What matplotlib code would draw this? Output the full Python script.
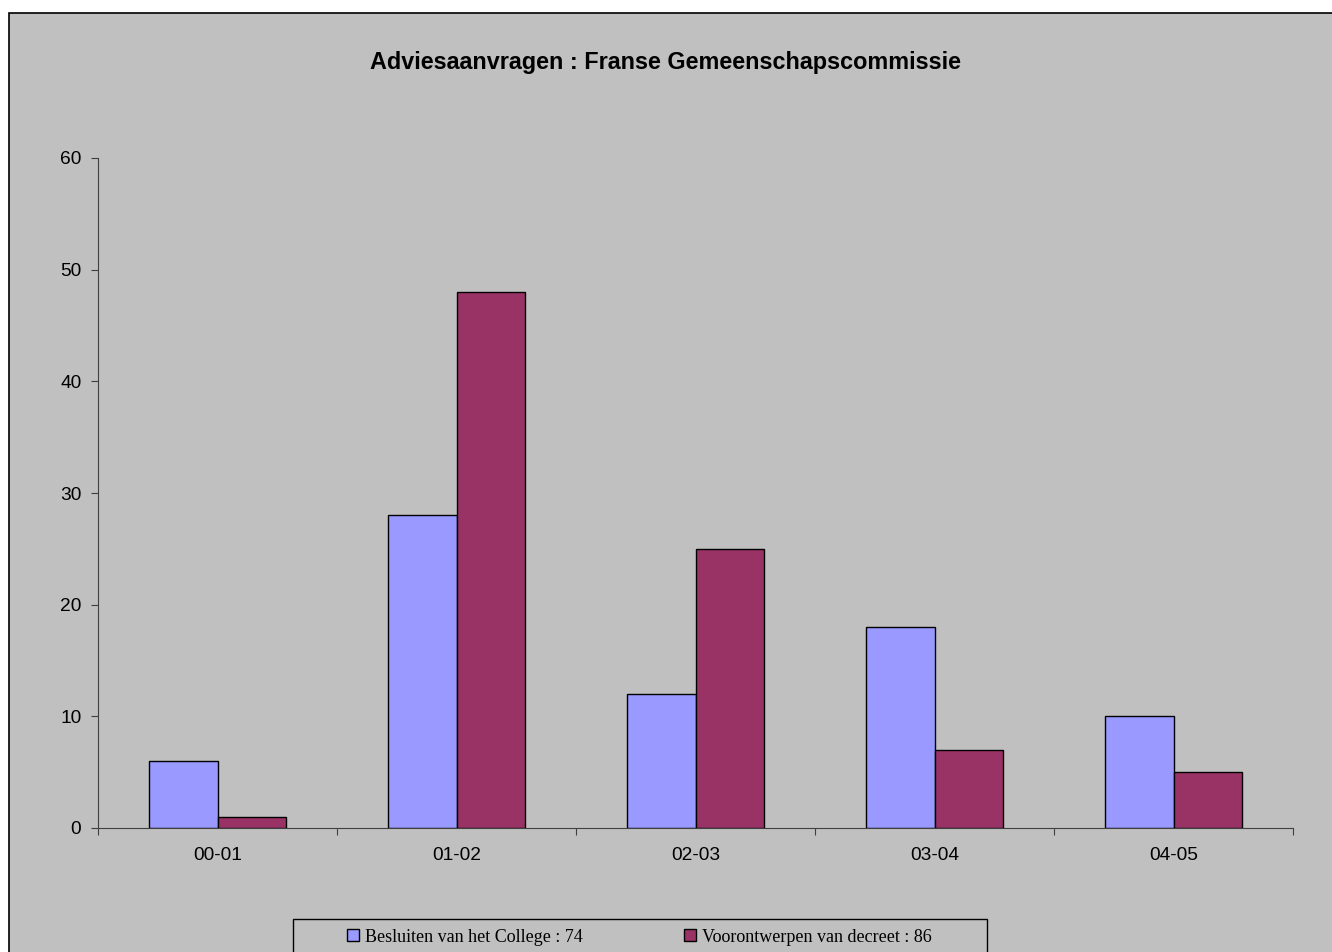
import numpy as np
import matplotlib
matplotlib.use("Agg")
import matplotlib.pyplot as plt
from matplotlib.patches import Rectangle, Patch

# data
periods = ["00-01", "01-02", "02-03", "03-04", "04-05"]
besluiten = [6, 28, 12, 18, 10]
voorontwerpen = [1, 48, 25, 7, 5]
labels = ["Besluiten van het College : 74", "Voorontwerpen van decreet : 86"]
colors = ["#9999FF", "#993366"]
bg = "#C0C0C0"

plt.rcParams['font.family'] = ['Liberation Sans', 'DejaVu Sans']

fig = plt.figure(figsize=(13.32, 9.52), dpi=100, facecolor="white")
# chart area border
fig.patches.append(Rectangle((9 / 1332, -0.2), 1.2, 0.2 + 1 - 13 / 952,
                             transform=fig.transFigure, facecolor=bg,
                             edgecolor="black", linewidth=1.2, zorder=-10))

ax = fig.add_axes([98 / 1332, 1 - 828 / 952, 1195 / 1332, 670 / 952])
ax.patch.set_alpha(0)

x = np.arange(len(periods))
w = 0.285
ax.bar(x - w / 2, besluiten, w, color=colors[0], edgecolor="black", linewidth=1)
ax.bar(x + w / 2, voorontwerpen, w, color=colors[1], edgecolor="black", linewidth=1)

ax.set_xlim(-0.5, len(periods) - 0.5)
ax.set_ylim(0, 60)
ax.set_yticks(range(0, 61, 10))
ax.set_xticks(np.arange(-0.5, len(periods)), [])
ax.set_xticks(x, periods, minor=True)
ax.tick_params(axis="x", which="minor", length=0, pad=14, labelsize=13.8)
ax.tick_params(axis="x", which="major", length=5, direction="out", color="#404040")
ax.tick_params(axis="y", length=5, direction="out", color="#404040", labelsize=13.8, pad=7)
for s in ["top", "right"]:
    ax.spines[s].set_visible(False)
for s in ["left", "bottom"]:
    ax.spines[s].set_color("#404040")

fig.text(0.5, 1 - 63 / 952, "Adviesaanvragen : Franse Gemeenschapscommissie",
         ha="center", va="center", fontsize=16.8, fontweight="bold")

# legend box
fig.patches.append(Rectangle((293 / 1332, -0.1), 694 / 1332, 0.1 + 1 - 919 / 952,
                             transform=fig.transFigure, facecolor=bg,
                             edgecolor="black", linewidth=1, zorder=-5))
handles = [Patch(facecolor=c, edgecolor="black") for c in colors]
leg = fig.legend(handles, labels, loc="center left", ncol=2,
                 bbox_to_anchor=(347 / 1332, 1 - 937 / 952),
                 frameon=False, borderpad=0, borderaxespad=0,
                 prop={"family": "Liberation Serif", "size": 13},
                 handlelength=0.65, handleheight=0.65, handletextpad=0.33,
                 columnspacing=5.65)

plt.savefig("out.png", dpi=100, facecolor="white")
plt.close()
